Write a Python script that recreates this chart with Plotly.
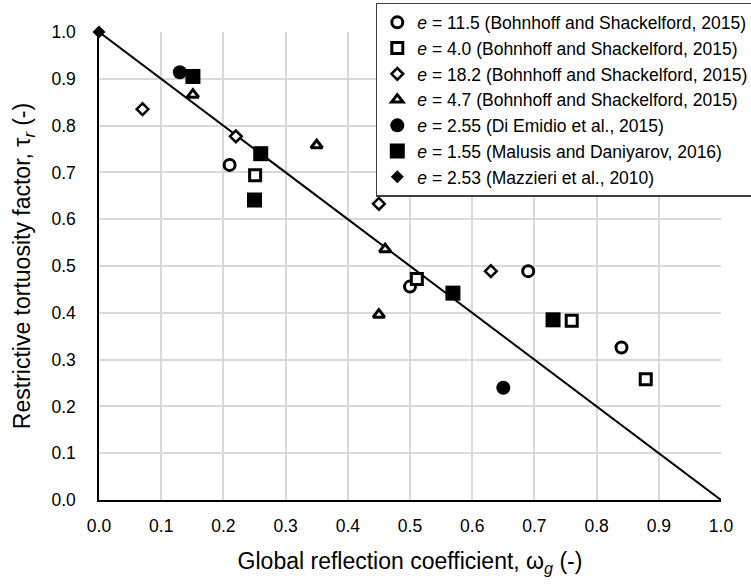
import plotly.graph_objects as go

# ---- data ----
line_x = [0.0, 1.0]
line_y = [1.0, 0.0]

s1_name = "<i>e</i> = 11.5 (Bohnhoff and Shackelford, 2015)"
s1_x = [0.21, 0.50, 0.69, 0.84]
s1_y = [0.716, 0.456, 0.489, 0.326]

s2_name = "<i>e</i> = 4.0 (Bohnhoff and Shackelford, 2015)"
s2_x = [0.251, 0.511, 0.760, 0.879]
s2_y = [0.694, 0.472, 0.383, 0.258]

s3_name = "<i>e</i> = 18.2 (Bohnhoff and Shackelford, 2015)"
s3_x = [0.07, 0.22, 0.45, 0.63]
s3_y = [0.835, 0.777, 0.633, 0.489]

s4_name = "<i>e</i> = 4.7 (Bohnhoff and Shackelford, 2015)"
s4_x = [0.151, 0.35, 0.46, 0.45]
s4_y = [0.866, 0.758, 0.536, 0.396]

s5_name = "<i>e</i> = 2.55 (Di Emidio et al., 2015)"
s5_x = [0.13, 0.65]
s5_y = [0.914, 0.240]

s6_name = "<i>e</i> = 1.55 (Malusis and Daniyarov, 2016)"
s6_x = [0.151, 0.26, 0.25, 0.569, 0.73]
s6_y = [0.905, 0.740, 0.641, 0.442, 0.385]

s7_name = "<i>e</i> = 2.53 (Mazzieri et al., 2010)"
s7_x = [0.0]
s7_y = [1.0]

ticks = [round(i * 0.1, 1) for i in range(11)]
tick_text = [f"{t:.1f}" for t in ticks]

FONT = "Liberation Sans, Arial, sans-serif"

fig = go.Figure()

fig.add_trace(go.Scatter(x=line_x, y=line_y, mode="lines",
                         line=dict(color="black", width=2), showlegend=False,
                         hoverinfo="skip", cliponaxis=False))

def open_marker(symbol, size, lw=3):
    return dict(symbol=symbol, size=size, color="white",
                line=dict(color="black", width=lw))

def filled_marker(symbol, size):
    return dict(symbol=symbol, size=size, color="black",
                line=dict(color="black", width=0))

series = [
    (s1_x, s1_y, s1_name, open_marker("circle", 11)),
    (s2_x, s2_y, s2_name, open_marker("square", 11)),
    (s3_x, s3_y, s3_name, open_marker("diamond", 9, 2.5)),
    (s4_x, s4_y, s4_name, open_marker("triangle-up", 10)),
    (s5_x, s5_y, s5_name, filled_marker("circle", 14)),
    (s6_x, s6_y, s6_name, filled_marker("square", 15)),
    (s7_x, s7_y, s7_name, filled_marker("diamond", 10)),
]
for xs, ys, nm, mk in series:
    fig.add_trace(go.Scatter(x=xs, y=ys, mode="markers", name=nm, marker=mk,
                             cliponaxis=False))

axis_common = dict(
    range=[0, 1.0],
    tickmode="array", tickvals=ticks, ticktext=tick_text,
    showgrid=True, gridcolor="#d9d9d9", gridwidth=1.5,
    zeroline=False, showline=True, linecolor="black", linewidth=1.5,
    mirror=False, ticks="", tickfont=dict(family=FONT, size=17.5, color="black"),
)

fig.update_layout(
    width=751, height=585,
    margin=dict(l=99, r=30, t=32, b=85, autoexpand=False),
    paper_bgcolor="white", plot_bgcolor="white",
    font=dict(family=FONT, color="black"),
    xaxis=dict(**axis_common,
               title=dict(text="Global reflection coefficient, ω<sub><i>g</i></sub> (-)",
                          font=dict(family=FONT, size=23), standoff=18),
               ticklabelstandoff=9),
    yaxis=dict(**axis_common,
               title=dict(text="Restrictive tortuosity factor, τ<sub><i>r</i></sub> (-)",
                          font=dict(family=FONT, size=23), standoff=14),
               ticklabelstandoff=18),
    legend=dict(x=0.445, y=1.062, xanchor="left", yanchor="top",
                bgcolor="white", bordercolor="#404040", borderwidth=1.5,
                font=dict(family=FONT, size=17.5, color="black"),
                itemsizing="trace"),
    showlegend=True,
)

fig.write_html("out.html")
